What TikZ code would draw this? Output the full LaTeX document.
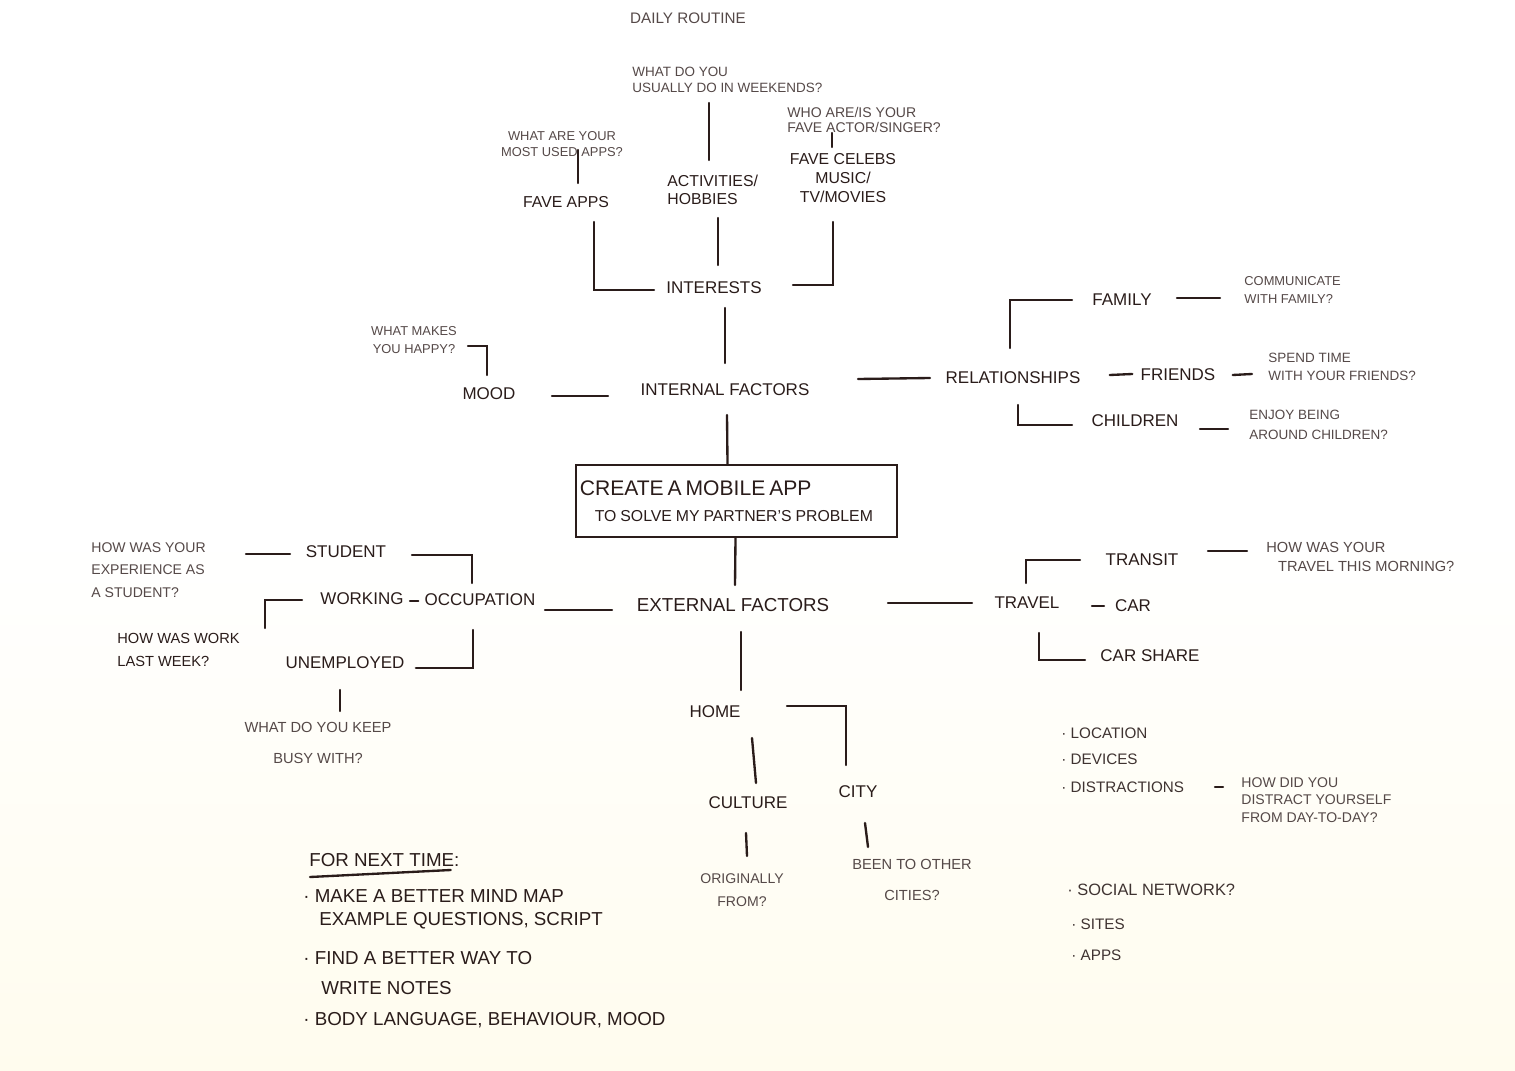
\documentclass[tikz,border=0pt]{standalone}
\usepackage{fontspec}
\setmainfont{Liberation Sans}
\usepackage{xcolor}
\usetikzlibrary{positioning, calc}
\definecolor{clrInk}{RGB}{42,28,26}
\definecolor{clrPaper}{RGB}{255,252,238}

\begin{document}
\begin{tikzpicture}[
  x=0.03cm, y=-0.03cm,
  lbl/.style={font=\fontsize{14.5}{17}\selectfont, text=clrInk, inner sep=1pt, align=center},
  qst/.style={font=\fontsize{11.5}{14}\selectfont, text=clrInk!80, inner sep=1pt, align=left},
  item/.style={font=\fontsize{13}{15}\selectfont, text=clrInk!90, inner sep=1pt, anchor=west},
  note/.style={font=\fontsize{16}{18}\selectfont, text=clrInk, inner sep=1pt, anchor=west},
  goalbox/.style={rectangle, draw=clrInk, line width=2.4pt, minimum width=9.63cm,
    minimum height=2.16cm, text width=9.4cm, align=left, text=clrInk, inner sep=0pt},
  link/.style={draw=clrInk, line width=2pt, line cap=round}
]

% paper
\shade[top color=white, bottom color=clrPaper, middle color=white]
  (0,0) rectangle (1515,1071);
\useasboundingbox (0,0) rectangle (1515,1071);

% Top branch
\node[qst, font=\fontsize{13}{15}\selectfont] (routine) at (688,18) {DAILY ROUTINE};
\node[qst, anchor=west] (weekq) at (631,80) {WHAT DO YOU\\USUALLY DO IN WEEKENDS?};
\node[qst, align=center, font=\fontsize{11}{13}\selectfont] (appsq) at (562,144) {WHAT ARE YOUR\\MOST USED APPS?};
\node[qst, anchor=west, font=\fontsize{12}{12.5}\selectfont] (celebq) at (786,120) {WHO ARE/IS YOUR\\FAVE ACTOR/SINGER?};
\node[lbl, font=\fontsize{13.5}{16}\selectfont] (fave) at (566,202) {FAVE APPS};
\node[lbl, anchor=west, align=left, font=\fontsize{13.5}{15.5}\selectfont] (hobby) at (666,190) {ACTIVITIES/\\HOBBIES};
\node[lbl, font=\fontsize{13.5}{16}\selectfont] (celeb) at (843,178) {FAVE CELEBS\\MUSIC/\\TV/MOVIES};
\node[lbl] (interests) at (714,288) {INTERESTS};

% Internal factors
\node[qst, align=center, font=\fontsize{11}{15}\selectfont] (happyq) at (414,340) {WHAT MAKES\\YOU HAPPY?};
\node[lbl] (mood) at (489,394) {MOOD};
\node[lbl] (internal) at (725,390) {INTERNAL FACTORS};
\node[lbl] (rel) at (1013,378) {RELATIONSHIPS};
\node[lbl] (family) at (1122,300) {FAMILY};
\node[lbl] (friends) at (1178,375) {FRIENDS};
\node[lbl] (children) at (1135,421) {CHILDREN};
\node[qst, anchor=west, font=\fontsize{11}{15}\selectfont] (commq) at (1243,290) {COMMUNICATE\\WITH FAMILY?};
\node[qst, anchor=west, font=\fontsize{11.5}{15}\selectfont] (spendq) at (1267,367) {SPEND TIME\\WITH YOUR FRIENDS?};
\node[qst, anchor=west, font=\fontsize{11.5}{17}\selectfont] (enjoyq) at (1248,425) {ENJOY BEING\\AROUND CHILDREN?};

% Goal
\node[goalbox] (goal) at (736.5,501)
  {\fontsize{18}{22}\selectfont CREATE A MOBILE APP\\[10pt]
   \hspace*{0.45cm}\fontsize{13.5}{16}\selectfont TO SOLVE MY PARTNER'S PROBLEM};

% External factors
\node[lbl, font=\fontsize{16}{18}\selectfont] (external) at (733,605) {EXTERNAL FACTORS};
\node[lbl] (occup) at (480,600) {OCCUPATION};
\node[lbl] (student) at (346,552) {STUDENT};
\node[lbl] (working) at (362,599) {WORKING};
\node[lbl] (unemp) at (345,663) {UNEMPLOYED};
\node[qst, anchor=west, font=\fontsize{12}{19}\selectfont] (studq) at (90,570) {HOW WAS YOUR\\EXPERIENCE AS\\A STUDENT?};
\node[qst, anchor=west, font=\fontsize{12.5}{19.5}\selectfont, text=clrInk] (workq) at (116,650) {HOW WAS WORK\\LAST WEEK?};
\node[qst, align=center, font=\fontsize{12.5}{26}\selectfont] (busyq) at (318,743) {WHAT DO YOU KEEP\\BUSY WITH?};
\node[lbl] (travel) at (1027,603) {TRAVEL};
\node[lbl] (transit) at (1142,560) {TRANSIT};
\node[lbl] (car) at (1133,606) {CAR};
\node[lbl] (carshare) at (1150,656) {CAR SHARE};
\node[qst, anchor=west, font=\fontsize{12.5}{16}\selectfont] (travelq) at (1265,557) {HOW WAS YOUR\\\hspace*{0.35cm}TRAVEL THIS MORNING?};
\node[lbl] (home) at (715,712) {HOME};
\node[lbl] (culture) at (748,803) {CULTURE};
\node[lbl] (city) at (858,792) {CITY};
\node[qst, align=center, font=\fontsize{12}{20}\selectfont] (origq) at (742,890) {ORIGINALLY\\FROM?};
\node[qst, align=center, font=\fontsize{12.5}{26}\selectfont] (beenq) at (912,880) {BEEN TO OTHER\\CITIES?};

% Side lists
\node[item] (location) at (1060,733) {· LOCATION};
\node[item] (devices) at (1060,759) {· DEVICES};
\node[item] (distr) at (1060,787) {· DISTRACTIONS};
\node[qst, anchor=west, font=\fontsize{12}{15}\selectfont] (distq) at (1240,800) {HOW DID YOU\\DISTRACT YOURSELF\\FROM DAY-TO-DAY?};
\node[item, font=\fontsize{14}{16}\selectfont] (social) at (1066,890) {· SOCIAL NETWORK?};
\node[item] (sites) at (1070,924) {· SITES};
\node[item] (apps) at (1070,955) {· APPS};

% Notes for next time
\node[note] (nexttime) at (308,860) {FOR NEXT TIME:};
\node[note] (notea) at (302,896) {· MAKE A BETTER MIND MAP};
\node[note] (noteb) at (318,921) {EXAMPLE QUESTIONS, SCRIPT};
\node[note] (notec) at (302,958) {· FIND A BETTER WAY TO};
\node[note] (noted) at (320,988) {WRITE NOTES};
\node[note] (notee) at (302,1020) {· BODY LANGUAGE, BEHAVIOUR, MOOD};

% Connectors: top
\draw[link] ($(appsq)+(16,6)$) -- ($(fave)+(12,-19)$);
\draw[link] ($(weekq.west)+(78,23)$) -- ($(hobby.west)+(43,-30)$);
\draw[link] ($(celebq.west)+(46,13)$) -- ($(celeb)+(-11,-31)$);
\draw[link] ($(fave)+(28,20)$) |- ($(interests)+(-60,2)$);
\draw[link] ($(hobby.west)+(52,28)$) -- ($(interests)+(4,-23)$);
\draw[link] ($(celeb)+(-10,44)$) |- ($(interests)+(79,-3)$);
\draw[link] ($(interests)+(11,20)$) -- ($(internal)+(0,-27)$);
\draw[link] ($(internal)+(2,25)$) -- ($(goal.north)+(-9,0)$);

% Connectors: internal
\draw[link] ($(mood)+(63,2)$) -- ($(internal)+(-117,6)$);
\draw[link] ($(happyq)+(54,6)$) -| ($(mood)+(-2,-19)$);
\draw[link] ($(internal)+(133,-11)$) -- ($(rel)+(-83,0)$);
\draw[link] ($(rel)+(-3,-30)$) |- ($(family)+(-50,0)$);
\draw[link] ($(rel.east)+(28,-3)$) -- ($(friends.west)+(-7,-1)$);
\draw[link] ($(rel)+(5,27)$) |- ($(children)+(-63,4)$);
\draw[link] ($(family)+(55,-2)$) -- ($(commq.west)+(-23,8)$);
\draw[link] ($(friends.east)+(16,0)$) -- ($(spendq.west)+(-15,7)$);
\draw[link] ($(children)+(65,8)$) -- ($(enjoyq.west)+(-20,4)$);

% Connectors: external
\draw[link] ($(goal.south)+(-1,0)$) -- ($(external)+(2,-20)$);
\draw[link] ($(external)+(8,27)$) -- ($(home)+(26,-22)$);
\draw[link] ($(occup)+(65,10)$) -- ($(external)+(-121,5)$);
\draw[link] ($(external)+(155,-2)$) -- ($(travel)+(-55,0)$);
\draw[link] ($(occup)+(-8,-17)$) |- ($(student)+(66,3)$);
\draw[link] ($(occup)+(-7,30)$) |- ($(unemp.east)+(10,5)$);
\draw[link] ($(working.east)+(5,2)$) -- ($(occup.west)+(-5,1)$);
\draw[link] ($(working)+(-60,1)$) -| ($(workq.west)+(149,-22)$);
\draw[link] ($(studq.west)+(156,-16)$) -- ($(student)+(-56,2)$);
\draw[link] ($(unemp)+(-5,27)$) -- ($(busyq)+(22,-32)$);
\draw[link] ($(travel)+(-1,-20)$) |- ($(transit)+(-62,0)$);
\draw[link] ($(travel)+(65,3)$) -- ($(car)+(-29,0)$);
\draw[link] ($(travel)+(12,30)$) |- ($(carshare)+(-65,4)$);
\draw[link] ($(transit)+(66,-9)$) -- ($(travelq.west)+(-18,-6)$);
\draw[link] ($(home)+(72,-6)$) -| ($(city)+(-12,-27)$);
\draw[link] ($(home)+(37,26)$) -- ($(culture)+(8,-20)$);
\draw[link] ($(culture)+(-2,30)$) -- ($(origq)+(5,-34)$);
\draw[link] ($(city)+(7,31)$) -- ($(beenq)+(-44,-33)$);
\draw[link] ($(distr.west)+(155,0)$) -- ($(distq.west)+(-17,-13)$);

% Underline
\draw[link] ($(nexttime.west)+(2,17)$) -- ($(nexttime.east)+(-10,10)$);

\end{tikzpicture}
\end{document}
